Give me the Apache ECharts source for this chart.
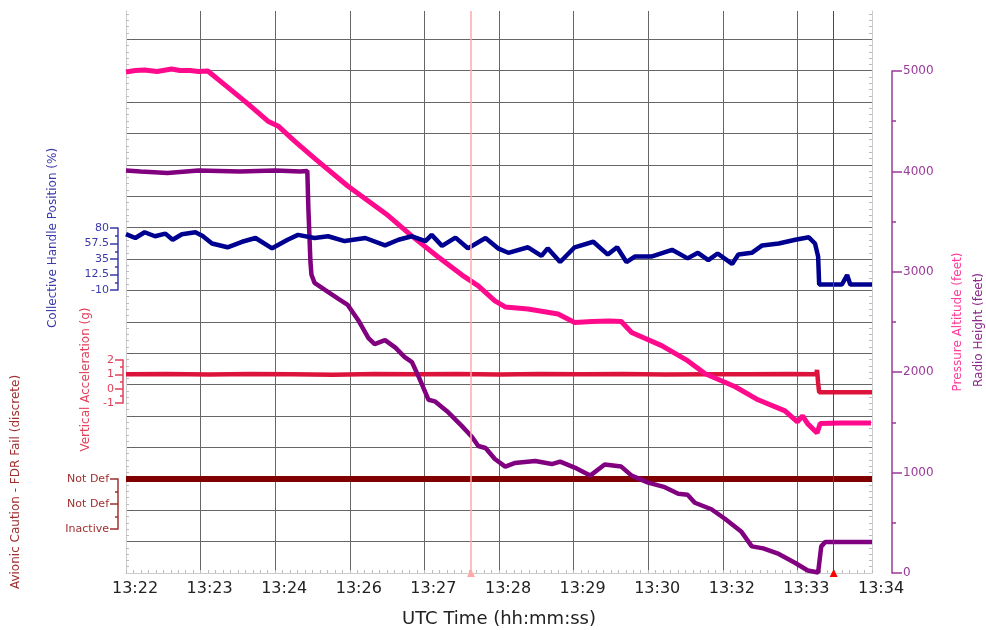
<!DOCTYPE html>
<html>
<head>
<meta charset="utf-8">
<script src="https://cdn.jsdelivr.net/npm/echarts@6/dist/echarts.min.js"></script>
<style>html,body{margin:0;padding:0;background:#fff}#c{width:986px;height:630px}</style>
</head>
<body>
<div id="c"></div>
<script>
// x axis: seconds after 13:22:00, gridline every 72 s
var timeTickLabels = ['13:22','13:23','13:24','13:26','13:27','13:28','13:29','13:30','13:32','13:33','13:34'];
var avionicLabels = ['Inactive','Not Def','Not Def'];

var pressAltT = [0,9,18,30,44,52,62,70,79,98,118,137,147,163,182,214,253,276,301,324,340,356,366,388,417,433,450,466,478,488,517,542,559,588,610,636,648,653,658,667,670,690,719];
var pressAltV = [4990,5005,5010,4995,5020,5005,5005,4995,5000,4840,4670,4500,4450,4300,4130,3855,3560,3355,3150,2970,2860,2710,2650,2630,2580,2495,2505,2510,2505,2395,2265,2115,1985,1855,1725,1615,1505,1565,1485,1395,1490,1495,1495];

var radioT = [0,14,40,70,110,144,168,175,176,178,179,182,192,205,214,224,234,240,250,260,269,276,282,292,298,311,324,334,340,347,356,366,375,395,411,419,433,448,462,478,488,504,520,533,542,549,565,578,594,604,615,630,646,658,668,671,675,720];
var radioV = [4010,4000,3985,4010,4000,4010,4000,4005,3635,3100,2970,2890,2820,2730,2670,2520,2340,2280,2320,2245,2150,2100,1965,1725,1710,1600,1465,1355,1265,1245,1135,1060,1095,1115,1085,1110,1050,970,1080,1060,970,900,855,790,780,700,635,540,410,265,245,190,100,25,5,265,310,310];

var collT = [0,9,18,28,38,45,54,67,74,83,98,112,125,141,156,166,182,195,211,231,250,263,276,289,295,305,318,330,347,359,369,388,401,407,419,433,451,465,474,483,491,507,527,542,552,562,571,585,591,604,614,630,646,659,665,668,669,691,696,699,720];
var collV = [71,65.5,73.8,68,71.8,62.9,71,73.7,68.3,57.5,52,60,65.5,50.5,63,70,65.5,68,61,65.5,54.7,63,68,61,70,54,66,50.5,65.5,50.5,44,52,39.6,50.5,30.6,52,60,41.4,52,30.6,38.6,38.6,48.4,35.9,44,33.5,43,27.9,41.4,44,54.7,57.5,63,66.5,57.5,38.6,-2,-2,11.8,-2,-2];

var vertT = [0,40,80,120,160,200,240,280,320,360,400,440,480,520,560,600,640,666,667,668,669,690,720];
var vertV = [1.0,1.03,0.98,1.02,1.0,0.97,1.03,1.0,1.02,0.98,1.02,1.0,1.03,0.99,1.01,1.0,1.02,1.0,1.3,0.4,-0.25,-0.25,-0.25];

var avionicT = [0,720];
var avionicV = [2,2];

var markerT = [333,683];

function pairs(t,v){var o=[];for(var i=0;i<t.length;i++)o.push([t[i],v[i]]);return o;}

var FONT = 'DejaVu Sans';
var L = 126, R = 114, B = 57;
var gridCol = '#666666';

function hiddenX(i){return {type:'value',gridIndex:i,min:0,max:720,show:false,axisLine:{onZero:false}};}
function g(o){o.left=L;o.right=R;o.containLabel=false;o.outerBoundsMode='none';return o;}

var option = {
  animation:false,
  textStyle:{fontFamily:FONT},
  grid:[
    g({top:11,bottom:B}),
    g({top:71,bottom:B}),
    g({top:228,height:62}),
    g({top:360,height:43}),
    g({top:479,height:50})
  ],
  xAxis:[
    {type:'value',gridIndex:0,min:0,max:720,interval:72,
     axisLine:{show:true,onZero:false,lineStyle:{color:'#cccccc',width:1}},
     axisTick:{show:true,inside:true,length:3,lineStyle:{color:'#bbbbbb'}},
     minorTick:{show:true,splitNumber:10,length:3,lineStyle:{color:'#bbbbbb'}},
     splitLine:{show:true,lineStyle:{color:gridCol,width:1}},
     axisLabel:{color:'#222',fontSize:16,margin:8,padding:[0,0,0,18],
       formatter:function(v){return timeTickLabels[Math.round(v/72)];}},
     name:'UTC Time (hh:mm:ss)',nameLocation:'middle',nameGap:37,
     nameTextStyle:{color:'#222',fontSize:18}},
    hiddenX(1),hiddenX(2),hiddenX(3),hiddenX(4)
  ],
  yAxis:[
    {type:'value',gridIndex:0,position:'left',min:0,max:17.9,interval:1,
     axisLine:{show:true,onZero:false,lineStyle:{color:'#cccccc'}},
     axisTick:{show:false,inside:true,length:3},
     minorTick:{show:true,splitNumber:5,length:3,lineStyle:{color:'#bbbbbb'}},
     axisLabel:{show:false},
     splitLine:{show:true,showMinLine:false,showMaxLine:false,lineStyle:{color:gridCol,width:1}}},
    {type:'value',gridIndex:0,position:'right',min:0,max:17.9,interval:1,
     axisLine:{show:true,onZero:false,lineStyle:{color:'#cccccc'}},
     axisTick:{show:false,inside:true,length:3},
     minorTick:{show:true,splitNumber:5,length:3,lineStyle:{color:'#bbbbbb'}},
     axisLabel:{show:false},splitLine:{show:false}},
    {type:'value',gridIndex:1,position:'right',offset:20,min:0,max:5000,interval:1000,
     axisLine:{show:true,onZero:false,lineStyle:{color:'#9a3a9a',width:1.5}},
     axisTick:{show:true,length:10,lineStyle:{color:'#9a3a9a',width:1.5}},
     minorTick:{show:true,splitNumber:2,length:4,lineStyle:{color:'#9a3a9a',width:1.5}},
     axisLabel:{color:'#9a3a9a',fontSize:12,margin:11,formatter:function(v){return String(v);}},
     splitLine:{show:false},
     name:'Pressure Altitude (feet)',nameLocation:'middle',nameGap:60,nameRotate:90,
     nameTextStyle:{color:'#ff3c9e',fontSize:12}},
    {type:'value',gridIndex:1,position:'right',offset:20,min:0,max:5000,
     axisLine:{show:false,onZero:false},axisTick:{show:false},axisLabel:{show:false},splitLine:{show:false},
     name:'Radio Height (feet)',nameLocation:'middle',nameGap:81,nameRotate:90,
     nameTextStyle:{color:'#8a2a8a',fontSize:12,padding:[0,16,0,0]}},
    {type:'value',gridIndex:2,position:'left',offset:8,min:-10,max:80,interval:22.5,
     axisLine:{show:true,onZero:false,lineStyle:{color:'#3a3aaa',width:1.5}},
     axisTick:{show:true,length:8,lineStyle:{color:'#3a3aaa',width:1.5}},
     minorTick:{show:true,splitNumber:2,length:3,lineStyle:{color:'#3a3aaa',width:1.5}},
     axisLabel:{color:'#3a3aaa',fontSize:11,margin:9},
     splitLine:{show:false},
     name:'Collective Handle Position (%)',nameLocation:'middle',nameGap:59,nameRotate:90,
     nameTextStyle:{color:'#3a3aaa',fontSize:12,padding:[0,0,0,42]}},
    {type:'value',gridIndex:3,position:'left',offset:3,min:-1,max:2,interval:1,
     axisLine:{show:true,onZero:false,lineStyle:{color:'#e0405a',width:1.5}},
     axisTick:{show:true,length:8,lineStyle:{color:'#e0405a',width:1.5}},
     minorTick:{show:true,splitNumber:2,length:3,lineStyle:{color:'#e0405a',width:1.5}},
     axisLabel:{color:'#e0405a',fontSize:11,margin:9},
     splitLine:{show:false},
     name:'Vertical Acceleration (g)',nameLocation:'middle',nameGap:21,nameRotate:90,
     nameTextStyle:{color:'#e0405a',fontSize:12,padding:[0,0,0,4]}},
    {type:'value',gridIndex:4,position:'left',offset:8,min:0,max:2,interval:1,
     axisLine:{show:true,onZero:false,lineStyle:{color:'#a03030',width:1.5}},
     axisTick:{show:true,length:8,lineStyle:{color:'#a03030',width:1.5}},
     minorTick:{show:true,splitNumber:2,length:3,lineStyle:{color:'#a03030',width:1.5}},
     axisLabel:{color:'#a03030',fontSize:11,margin:9,formatter:function(v){return avionicLabels[Math.round(v)];}},
     splitLine:{show:false},
     name:'Avionic Caution - FDR Fail (discrete)',nameLocation:'middle',nameGap:96,nameRotate:90,
     nameTextStyle:{color:'#a03030',fontSize:12,padding:[0,0,0,44]}}
  ],
  series:[
    {type:'line',name:'marker',xAxisIndex:0,yAxisIndex:0,data:[],
     markLine:{silent:true,symbol:['triangle','none'],symbolSize:8,symbolRotate:0,label:{show:false},
       data:[
         {xAxis:markerT[0],lineStyle:{color:'#ffaaaa',width:1.5,type:'solid'},itemStyle:{color:'#ff8080'}},
         {xAxis:markerT[1],lineStyle:{color:'#ff0000',width:1,type:'solid'},itemStyle:{color:'#ff0000'}}
       ]}},
    {type:'line',name:'Avionic Caution',xAxisIndex:4,yAxisIndex:6,data:pairs(avionicT,avionicV),
     showSymbol:false,clip:false,lineStyle:{color:'#800000',width:6}},
    {type:'line',name:'Vertical Acceleration',xAxisIndex:3,yAxisIndex:5,data:pairs(vertT,vertV),
     showSymbol:false,clip:false,lineStyle:{color:'#dc143c',width:4.5}},
    {type:'line',name:'Radio Height',xAxisIndex:1,yAxisIndex:2,data:pairs(radioT,radioV),
     showSymbol:false,clip:false,lineStyle:{color:'#800080',width:4.5}},
    {type:'line',name:'Pressure Altitude',xAxisIndex:1,yAxisIndex:2,data:pairs(pressAltT,pressAltV),
     showSymbol:false,clip:false,lineStyle:{color:'#ff0a8c',width:5}},
    {type:'line',name:'Collective',xAxisIndex:2,yAxisIndex:4,data:pairs(collT,collV),
     showSymbol:false,clip:false,lineStyle:{color:'#000090',width:4.5}}
  ]
};
var chart = echarts.init(document.getElementById('c'),null,{renderer:'canvas'});
chart.setOption(option);
</script>
</body>
</html>
